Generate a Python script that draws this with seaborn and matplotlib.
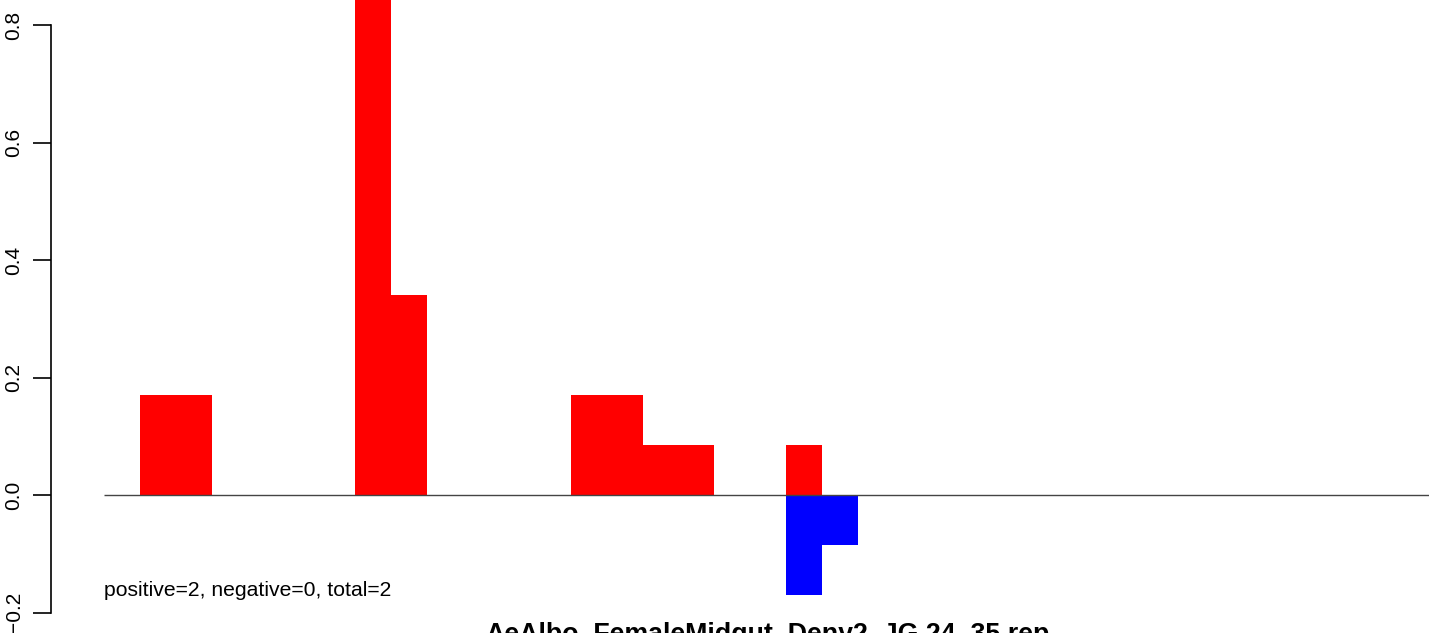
import numpy as np
import pandas as pd
import matplotlib
matplotlib.use("Agg")
import matplotlib.pyplot as plt
import seaborn as sns

# bin index along the x axis (one bar per bin, no gaps)
bins = list(range(38))

# positive (red) and negative (blue) bar heights
pos_bins = [1, 2, 7, 8, 13, 14, 15, 16, 19]
pos_vals = [0.17, 0.17, 1.0, 0.34, 0.17, 0.17, 0.085, 0.085, 0.085]
neg_bins = [19, 20]
neg_vals = [-0.17, -0.085]

y_ticks = [-0.2, 0.0, 0.2, 0.4, 0.6, 0.8]
title = "AeAlbo_FemaleMidgut_Deny2_JG.24_35.rep"
note = "positive=2, negative=0, total=2"

pos = np.zeros(len(bins))
pos[pos_bins] = pos_vals
neg = np.zeros(len(bins))
neg[neg_bins] = neg_vals
df = pd.DataFrame({"bin": bins, "pos": pos, "neg": neg})

sns.set_style("white")
plt.rcParams["font.family"] = ["Liberation Sans", "DejaVu Sans"]

W, H = 1429, 633
fig = plt.figure(figsize=(W / 100, H / 100), dpi=100)
ax = fig.add_axes([50.7 / W, 0, 1 - 50.7 / W, 1])

sns.barplot(data=df, x="bin", y="pos", color="#ff0000", saturation=1,
            width=1, linewidth=0, ax=ax)
sns.barplot(data=df, x="bin", y="neg", color="#0000ff", saturation=1,
            width=1, linewidth=0, ax=ax)

# zero line from the first bin to the right edge
ax.hlines(0, -0.5, 40, color="#444444", lw=1)

ax.text(-0.5, -0.162, note, ha="left", va="center", fontsize=15.2, color="black")

# axis range so that the picture is cropped like the original
slot = 35.9
ax.set_xlim((50.7 - 104) / slot - 0.5, (W - 104) / slot - 0.5)
ax.set_ylim((495 - H) / 587.5, 495 / 587.5)

ax.set_yticks(y_ticks)
ax.set_yticklabels([f"{t:.1f}".replace("-", "\u2212") for t in y_ticks],
                   rotation=90, va="center", fontsize=15)
ax.tick_params(axis="y", length=13, width=1.2, pad=6.5, color="black",
               labelcolor="black", left=True)
ax.set_xticks([])
ax.set_xlabel("")
ax.set_ylabel("")
for s in ["top", "right", "bottom"]:
    ax.spines[s].set_visible(False)
ax.spines["left"].set_bounds(-0.2, 0.8)
ax.spines["left"].set_color("black")
ax.spines["left"].set_linewidth(1.2)

fig.text(768 / W, 1 - 642 / H, title, ha="center", va="baseline",
         fontsize=19.3, fontweight="bold", color="black")

fig.savefig("out.png", dpi=100)
